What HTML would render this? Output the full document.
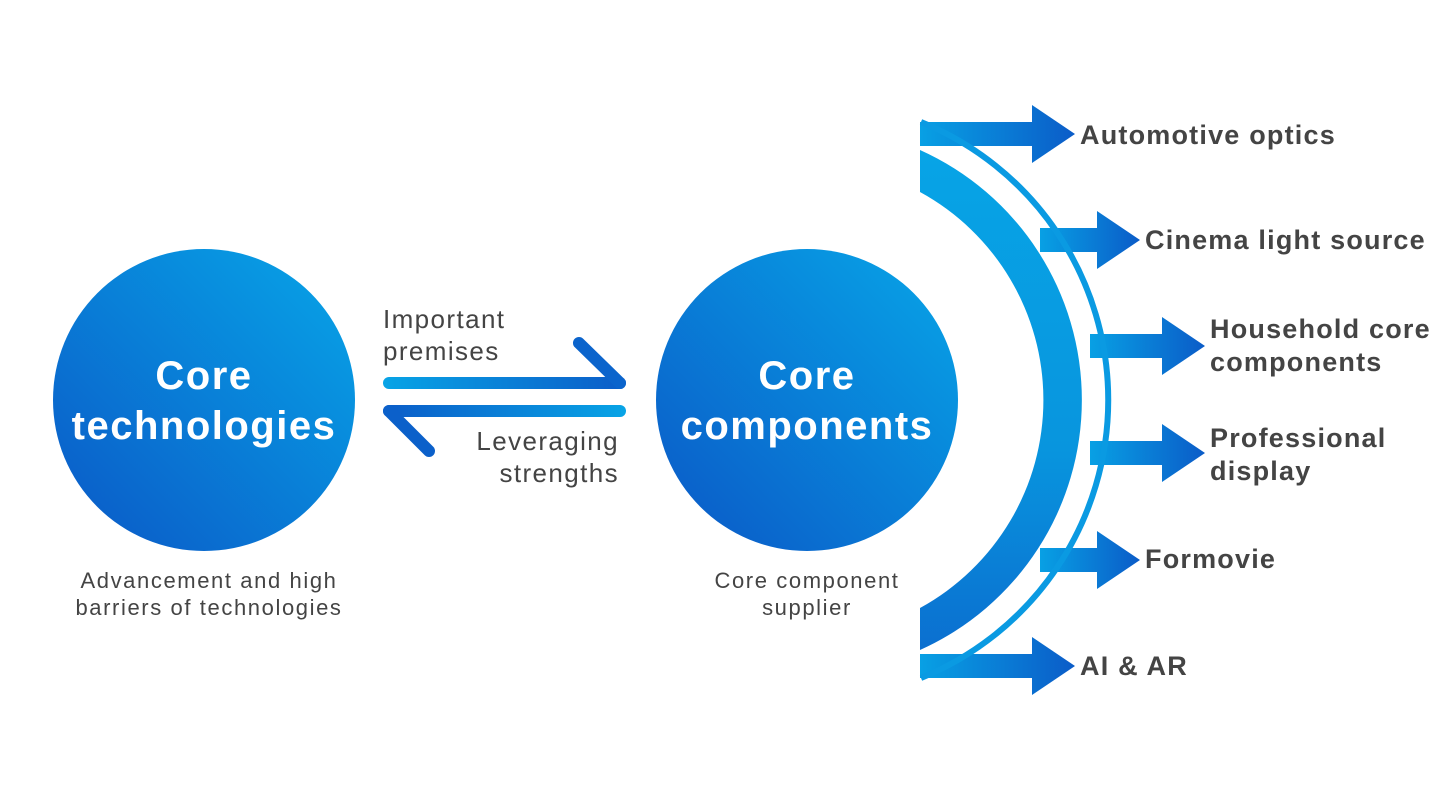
<!DOCTYPE html>
<html><head><meta charset="utf-8"><style>
html,body{margin:0;padding:0;background:#fff;}
svg{display:block;}
</style></head><body>
<svg width="1447" height="800" viewBox="0 0 1447 800" xmlns="http://www.w3.org/2000/svg">
<defs>
<linearGradient id="cg" x1="0" y1="1" x2="1" y2="0">
<stop offset="0" stop-color="#0b57c6"/><stop offset="1" stop-color="#07a6e8"/>
</linearGradient>
<linearGradient id="ar" x1="0" y1="0" x2="1" y2="0">
<stop offset="0" stop-color="#08a0e4"/><stop offset="1" stop-color="#0b5cc8"/>
</linearGradient>
<linearGradient id="lt" gradientUnits="userSpaceOnUse" x1="383" y1="0" x2="626" y2="0">
<stop offset="0" stop-color="#08a4e6"/><stop offset="1" stop-color="#0b5cc8"/>
</linearGradient>
<linearGradient id="lb" gradientUnits="userSpaceOnUse" x1="383" y1="0" x2="626" y2="0">
<stop offset="0" stop-color="#0b5cc8"/><stop offset="1" stop-color="#08a4e6"/>
</linearGradient>
<linearGradient id="arc" x1="0" y1="0" x2="0" y2="1">
<stop offset="0" stop-color="#07a4e6"/><stop offset="0.6" stop-color="#0895de"/><stop offset="1" stop-color="#0b6fd0"/>
</linearGradient>
</defs>

<circle cx="204" cy="400" r="151" fill="url(#cg)"/>
<circle cx="807" cy="400" r="151" fill="url(#cg)"/>

<g font-family="Liberation Sans, sans-serif" font-weight="bold" fill="#fff" font-size="40" letter-spacing="1.5" text-anchor="middle">
<text x="204" y="389">Core</text>
<text x="204" y="439">technologies</text>
<text x="807" y="389">Core</text>
<text x="807" y="439">components</text>
</g>
<g font-family="Liberation Sans, sans-serif" fill="#444" font-size="22" letter-spacing="1.6" text-anchor="middle">
<text x="209" y="588">Advancement and high</text>
<text x="209" y="615">barriers of technologies</text>
<text x="807" y="588">Core component</text>
<text x="807" y="615">supplier</text>
</g>
<g font-family="Liberation Sans, sans-serif" fill="#444" font-size="26" letter-spacing="1.4">
<text x="383" y="328">Important</text>
<text x="383" y="360">premises</text>
<text x="619" y="450" text-anchor="end">Leveraging</text>
<text x="619" y="482" text-anchor="end">strengths</text>
</g>

<g stroke-linecap="round" fill="none" stroke-width="12">
<line x1="389" y1="383" x2="620" y2="383" stroke="url(#lt)"/>
<line x1="579" y1="343" x2="620" y2="383" stroke="#0b64cc"/>
<line x1="389" y1="411" x2="620" y2="411" stroke="url(#lb)"/>
<line x1="389" y1="411" x2="429" y2="451" stroke="#0b60ca"/>
</g>

<g>
<path d="M920,122 L1032,122 L1032,105 L1075,134 L1032,163 L1032,146 L920,146 Z" fill="url(#ar)"/>
<path d="M1040,228 L1097,228 L1097,211 L1140,240 L1097,269 L1097,252 L1040,252 Z" fill="url(#ar)"/>
<path d="M1090,334 L1162,334 L1162,317 L1205,346 L1162,375 L1162,358 L1090,358 Z" fill="url(#ar)"/>
<path d="M1090,441 L1162,441 L1162,424 L1205,453 L1162,482 L1162,465 L1090,465 Z" fill="url(#ar)"/>
<path d="M1040,548 L1097,548 L1097,531 L1140,560 L1097,589 L1097,572 L1040,572 Z" fill="url(#ar)"/>
<path d="M920,654 L1032,654 L1032,637 L1075,666 L1032,695 L1032,678 L920,678 Z" fill="url(#ar)"/>
</g>
<path d="M920,150 A274,274 0 0 1 920,650 L920,608 A237,237 0 0 0 920,192 Z" fill="url(#arc)"/>
<path d="M921,122 A300,300 0 0 1 921,678" fill="none" stroke="#0a9ae2" stroke-width="6"/>

<g font-family="Liberation Sans, sans-serif" font-weight="bold" fill="#444" font-size="27" letter-spacing="1.2">
<text x="1080" y="144">Automotive optics</text>
<text x="1145" y="249">Cinema light source</text>
<text x="1210" y="338">Household core</text>
<text x="1210" y="371">components</text>
<text x="1210" y="447">Professional</text>
<text x="1210" y="480">display</text>
<text x="1145" y="568">Formovie</text>
<text x="1080" y="675">AI &amp; AR</text>
</g>
</svg>
</body></html>
